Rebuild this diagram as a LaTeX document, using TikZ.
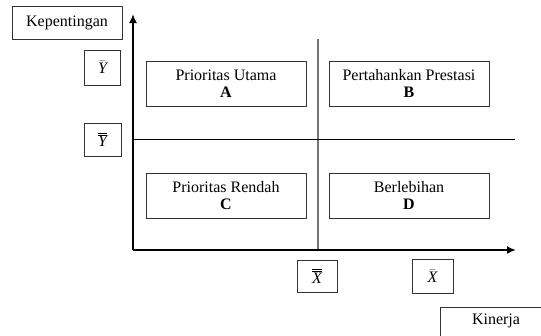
\documentclass[tikz,border=0pt]{standalone}
\usepackage{fontspec}
\setmainfont{Liberation Serif}
\usetikzlibrary{arrows.meta}
\begin{document}
\begin{tikzpicture}[x=1pt,y=-1pt,
  box/.style={draw=black!80,line width=0.8pt,inner sep=0pt,align=center,
    font=\fontsize{16}{17}\selectfont},
  quad/.style={box,minimum width=160pt,minimum height=45pt},
  axis/.style={line width=2pt,-{Latex[length=9pt,width=8pt]}},
  sep/.style={draw=black!55,line width=1.4pt},
  hline/.style={draw=black,line width=0.8pt}]
\useasboundingbox (0,0) rectangle (541,335);
% axes
\coordinate (origin) at (133,250);
\coordinate (ytop) at (133,14);
\coordinate (xend) at (516,250);
\coordinate (vtop) at (318,39);
\coordinate (vbot) at (318,250);
\coordinate (hl) at (133,139);
\coordinate (hr) at (515,139);
\draw[sep] (vtop) -- (vbot);
\draw[hline] (hl) -- (hr);
\draw[axis] (origin) -- (ytop);
\draw[axis] (origin) -- (xend);
% labels
\node[box,minimum width=110pt,minimum height=33pt] (kep) at (67,22.5) {Kepentingan};
\node[box,minimum width=36pt,minimum height=35pt] (ybar) at (102.5,67.5) {$\bar{\mbox{\itshape Y}}$};
\node[box,minimum width=37pt,minimum height=33pt] (ybb) at (102.5,139.5) {$\overline{\overline{\mbox{\itshape Y}}}$};
\node[box,minimum width=40pt,minimum height=32pt] (xbb) at (317,276) {$\overline{\overline{\mbox{\itshape X}}}$};
\node[box,minimum width=41pt,minimum height=34pt] (xbar) at (432.5,276) {$\bar{\mbox{\itshape X}}$};
\node[box,minimum width=114pt,minimum height=36pt,anchor=north west] (kin) at (440,307) {};
\node[font=\fontsize{16}{17}\selectfont,inner sep=0pt] (kintext) at (496,321) {Kinerja};
% quadrants
\node[quad] (A) at (226,83.5) {Prioritas Utama\\\textbf{A}};
\node[quad] (B) at (409,83.5) {Pertahankan Prestasi\\\textbf{B}};
\node[quad] (C) at (226,195.5) {Prioritas Rendah\\\textbf{C}};
\node[quad] (D) at (409,195.5) {Berlebihan\\\textbf{D}};
\end{tikzpicture}
\end{document}
